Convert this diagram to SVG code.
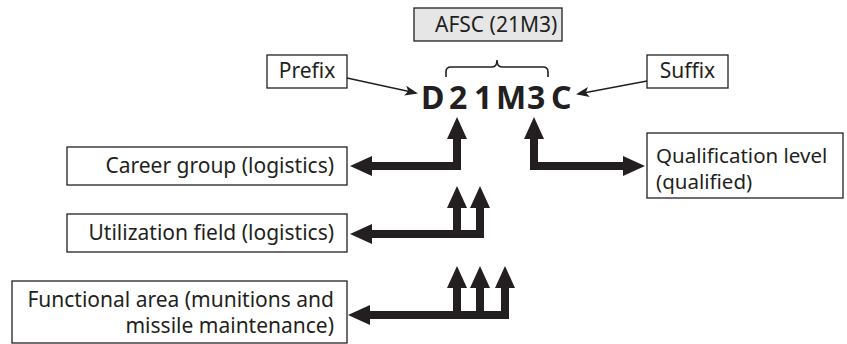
<svg xmlns="http://www.w3.org/2000/svg" width="847" height="344" viewBox="0 0 847 344">
<style>
.box{fill:#fff;stroke:#231f20;stroke-width:1.3}
.gbox{fill:#e6e6e7;stroke:#231f20;stroke-width:1.3}
.t{font-family:"Noto Sans","Open Sans",sans-serif;font-size:21px;fill:#231f20}
.code{font-family:"Noto Sans","Open Sans",sans-serif;font-size:32px;font-weight:bold;fill:#231f20}
.thick{fill:none;stroke:#231f20;stroke-width:8;stroke-linejoin:miter;marker-start:url(#big)}
.end{marker-end:url(#big)}
.thin{fill:none;stroke:#231f20;stroke-width:1.4;marker-end:url(#small)}
.brace{fill:none;stroke:#231f20;stroke-width:1.6}
</style>
<defs>
<marker id="big" markerUnits="userSpaceOnUse" markerWidth="22" markerHeight="20" viewBox="0 0 22 20" refX="1" refY="10" orient="auto-start-reverse">
<path d="M0,0 L22,10 L0,20 Z" fill="#231f20"/>
</marker>
<marker id="small" markerUnits="userSpaceOnUse" markerWidth="13" markerHeight="10" viewBox="0 0 13 10" refX="11" refY="5" orient="auto">
<path d="M0,0 L13,5 L0,10 L3,5 Z" fill="#231f20"/>
</marker>
</defs>

<g id="afsc">
<rect class="gbox" x="414" y="8" width="148" height="33"/>
<text class="t" x="435" y="32">AFSC (21M3)</text>
</g>
<g id="brace">
<path class="brace" d="M446,77 V72 Q446,67 451,67 H492 Q497,67 497,60 Q497,67 502,67 H543 Q548,67 548,72 V77"/>
</g>
<g id="code">
<text class="code" x="421 449 474 496 527 551" y="109">D21M3C</text>
</g>
<g id="prefix">
<rect class="box" x="267" y="55" width="80" height="33"/>
<text class="t" x="307" y="78" text-anchor="middle">Prefix</text>
</g>
<g id="suffix">
<rect class="box" x="647" y="55" width="81" height="33"/>
<text class="t" x="687.5" y="78" text-anchor="middle">Suffix</text>
</g>
<g id="career">
<rect class="box" x="67" y="147" width="280" height="38"/>
<text class="t" x="334" y="173" text-anchor="end">Career group (logistics)</text>
</g>
<g id="utilization">
<rect class="box" x="67" y="214" width="280" height="38"/>
<text class="t" x="334" y="240" text-anchor="end">Utilization field (logistics)</text>
</g>
<g id="functional">
<rect class="box" x="12" y="281" width="335" height="62"/>
<text class="t" x="334" y="307" text-anchor="end">Functional area (munitions and</text>
<text class="t" x="334" y="333" text-anchor="end">missile maintenance)</text>
</g>
<g id="qualification">
<rect class="box" x="647" y="133" width="196" height="65"/>
<text class="t" x="656" y="163" style="font-size:20.5px">Qualification level</text>
<text class="t" x="656" y="189" style="font-size:20.5px">(qualified)</text>
</g>

<g id="connectors">
<path class="thin" d="M347,78 L416,93"/>
<path class="thin" d="M647,81 L578,94"/>
<path class="thick end" d="M457,138 V166 H371"/>
<path class="thick end" d="M534,138 V166 H624"/>
<path class="thick" d="M457,207 V238"/>
<path class="thick end" d="M480,207 V234 H371"/>
<path class="thick" d="M457,287 V319"/>
<path class="thick" d="M480,287 V319"/>
<path class="thick end" d="M505,287 V315 H369"/>
</g>
</svg>
